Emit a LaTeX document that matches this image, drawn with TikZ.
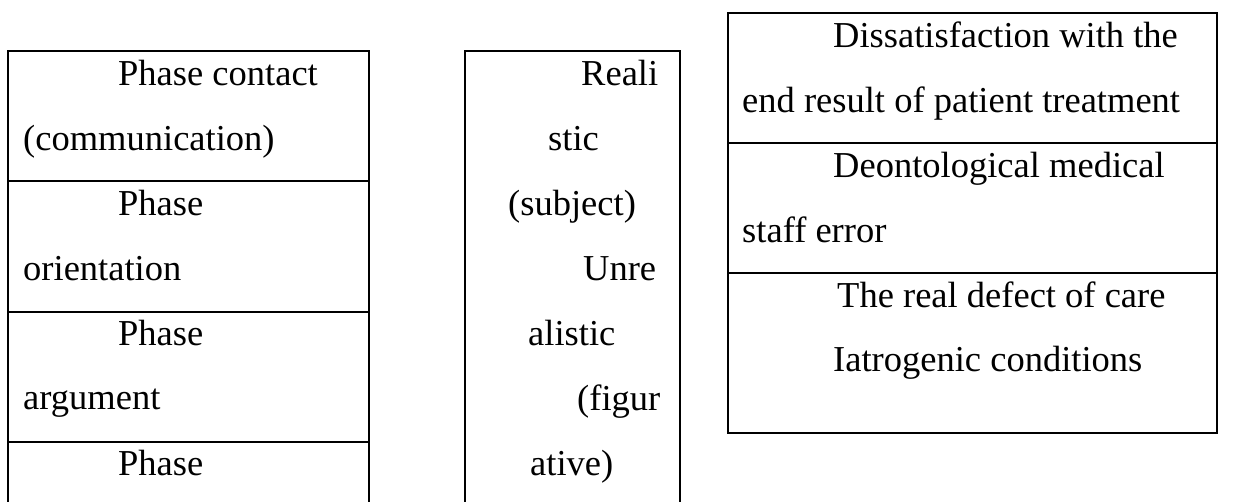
\documentclass[tikz,border=0pt]{standalone}
\usepackage{fontspec}
\setmainfont{Liberation Serif}
\usetikzlibrary{positioning}
\tikzset{
  cellline/.style={draw=black, line width=2.7pt},
  celltext/.style={anchor=base west,
                   inner sep=0pt,
                   text=black,
                   font=\fontsize{36.5}{44}\selectfont}
}

\begin{document}
\begin{tikzpicture}[x=1pt,y=-1pt]
        \clip (0,0) rectangle (1241,501);
        % phases
        \draw[cellline] (8,520) -- (8,51) -- (369,51) -- (369,520);
        \draw[cellline] (8,181) -- (369,181);
        \draw[cellline] (8,312) -- (369,312);
        \draw[cellline] (8,442) -- (369,442);
        \node[celltext] (contactA) at (118,85) {Phase contact};
        \node[celltext] (contactB) at (23,150) {(communication)};
        \node[celltext] (orientA) at (118,215) {Phase};
        \node[celltext] (orientB) at (23,280) {orientation};
        \node[celltext] (argumentA) at (118,345) {Phase};
        \node[celltext] (argumentB) at (23,409) {argument};
        \node[celltext] (lastphase) at (118,475) {Phase};
        % realistic / unrealistic
        \draw[cellline] (465,520) -- (465,51) -- (680,51) -- (680,520);
        \node[celltext] (realA) at (581,85) {Reali};
        \node[celltext] (realB) at (548,150) {stic};
        \node[celltext] (realC) at (508,215) {(subject)};
        \node[celltext] (unrealA) at (583,280) {Unre};
        \node[celltext] (unrealB) at (528,345) {alistic};
        \node[celltext] (unrealC) at (577,410) {(figur};
        \node[celltext] (unrealD) at (530,475) {ative)};
        % causes
        \draw[cellline] (728,13) rectangle (1217,433);
        \draw[cellline] (728,143) -- (1217,143);
        \draw[cellline] (728,273) -- (1217,273);
        \node[celltext] (dissatA) at (833,47) {Dissatisfaction with the};
        \node[celltext] (dissatB) at (742,112) {end result of patient treatment};
        \node[celltext] (deontA) at (833,177) {Deontological medical};
        \node[celltext] (deontB) at (742,242) {staff error};
        \node[celltext] (defect) at (837,307) {The real defect of care};
        \node[celltext] (iatro) at (833,371) {Iatrogenic conditions};
\end{tikzpicture}
\end{document}
